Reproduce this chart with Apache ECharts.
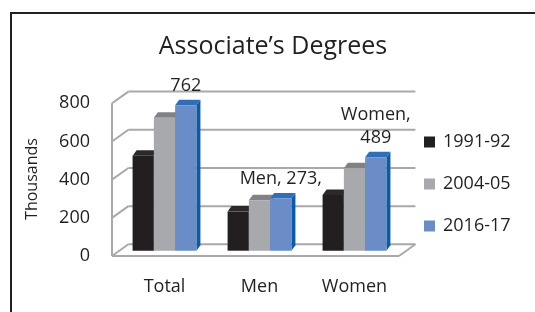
<!DOCTYPE html>
<html><head><meta charset="utf-8">
<script src="https://cdn.jsdelivr.net/npm/echarts@6/dist/echarts.min.js"></script>
<style>html,body{margin:0;padding:0;background:#fff}#c{width:535px;height:312px}</style>
</head><body><div id="c"></div>
<script>
// ---- data ----
const categories = ['Total', 'Men', 'Women'];
const seriesNames = ['1991-92', '2004-05', '2016-17'];
const values1991 = [497, 205, 292];
const values2004 = [696, 264, 432];
const values2016 = [762, 273, 489];
const labels2016 = ['762', 'Men, 273,', 'Women,\n489'];
const yTicks = [0, 200, 400, 600, 800];
const yTickLabels = ['0', '200', '400', '600', '800'];

// ---- style ----
const FONT = '"Open Sans", sans-serif';
const TXT = '#231f20';
const FRAME = '#a7a9ac';
const palette = [
  { front: '#231f20', top: '#2d292a', side: '#1a1718' },
  { front: '#a7a9ac', top: '#808285', side: '#8a8c8f' },
  { front: '#6a8cc7', top: '#2f6fb8', side: '#0b5bab' }
];
const BAR_FRAC = 0.224, DX = 4, DY = 5.5;
const FRONT_L = -5, FRONT_R = -3, FRONT_DY = 5.3, DEPTH_X = 16.4, DEPTH_Y = 11.7;

function seg(x1, y1, x2, y2) {
  return { type: 'line', shape: { x1, y1, x2, y2 }, style: { stroke: FRAME, lineWidth: 2 } };
}

function renderFrame(params, api) {
  const cs = params.coordSys;
  const v = api.value(0);
  const y = api.coord([0, v])[1];
  const fL = cs.x + FRONT_L, fR = cs.x + cs.width + FRONT_R;
  const yF = y + FRONT_DY, yB = yF - DEPTH_Y;
  const ch = [
    seg(fL + DEPTH_X, yB, fR + DEPTH_X, yB),
    seg(fL, yF, fL + DEPTH_X, yB),
    { type: 'text', style: { text: yTickLabels[params.dataIndex], x: fL - 22, y: yF,
      align: 'right', verticalAlign: 'middle', fill: TXT, font: '18px ' + FONT } }
  ];
  if (params.dataIndex === 0) {
    const yTop = api.coord([0, yTicks[yTicks.length - 1]])[1] + FRONT_DY;
    ch.push(seg(fL, yF, fR, yF));
    ch.push(seg(fR, yF, fR + DEPTH_X, yB));
    ch.push(seg(fL, yTop, fL, yF));
  }
  return { type: 'group', children: ch };
}

function barRenderer(s) {
  const c = palette[s];
  return function (params, api) {
    const cat = api.value(0), v = api.value(1);
    const top = api.coord([cat, v]);
    const base = api.coord([cat, 0]);
    const bandW = api.size([1, 0])[0];
    const w = bandW * BAR_FRAC;
    const xl = top[0] - 1.5 * w + s * w, xr = xl + w;
    const yt = top[1], yb = base[1];
    const ch = [
      { type: 'polygon', shape: { points: [[xr, yb], [xr, yt], [xr + DX, yt - DY], [xr + DX, yb - DY]] }, style: { fill: c.side } },
      { type: 'polygon', shape: { points: [[xl, yt], [xr, yt], [xr + DX, yt - DY], [xl + DX, yt - DY]] }, style: { fill: c.top } },
      { type: 'rect', shape: { x: xl, y: yt, width: w, height: yb - yt }, style: { fill: c.front } }
    ];
    if (s === 2) {
      ch.push({ type: 'text', style: { text: labels2016[params.dataIndex], x: (xl + xr) / 2, y: yt - 8,
        align: 'center', verticalAlign: 'bottom', lineHeight: 23, fill: TXT, font: '18px ' + FONT } });
    }
    return { type: 'group', children: ch };
  };
}

const seriesValues = [values1991, values2004, values2016];
const barSeries = seriesValues.map((vals, s) => ({
  type: 'custom', name: seriesNames[s], z: 3,
  itemStyle: { color: palette[s].front },
  renderItem: barRenderer(s),
  encode: { x: 0, y: 1 },
  data: vals.map((v, i) => [i, v])
}));

const chart = echarts.init(document.getElementById('c'), null, { renderer: 'canvas' });
chart.setOption({
  backgroundColor: '#fff',
  animation: false,
  title: {
    text: 'Associate\u2019s Degrees', left: 273, top: 33, textAlign: 'center', padding: 0,
    textStyle: { fontFamily: FONT, fontSize: 25, fontWeight: 'normal', color: TXT, lineHeight: 27 }
  },
  legend: {
    orient: 'vertical', left: 424, top: 133, itemWidth: 11, itemHeight: 11, itemGap: 24,
    icon: 'rect', padding: 0,
    textStyle: { fontFamily: FONT, fontSize: 18, color: TXT, lineHeight: 18, padding: [0, 0, 0, 3] },
    data: seriesNames
  },
  grid: { left: 117, right: 133, top: 98, bottom: 61.3, outerBoundsMode: 'none' },
  xAxis: {
    type: 'category', data: categories,
    axisLine: { show: false }, axisTick: { show: false }, splitLine: { show: false },
    axisLabel: { margin: 27, fontFamily: FONT, fontSize: 18, color: TXT }
  },
  yAxis: {
    type: 'value', min: 0, max: 800, interval: 200,
    axisLine: { show: false }, axisTick: { show: false }, splitLine: { show: false },
    axisLabel: { show: false }
  },
  graphic: [
    { type: 'rect', shape: { x: 11, y: 13, width: 560, height: 340 }, style: { fill: 'none', stroke: TXT, lineWidth: 2 }, silent: true },
    { type: 'text', x: 32, y: 179, rotation: Math.PI / 2,
      style: { text: 'Thousands', align: 'center', verticalAlign: 'middle', fill: TXT, font: '16px ' + FONT } }
  ],
  series: [
    { type: 'custom', name: 'frame', z: 1, silent: true, renderItem: renderFrame,
      encode: { y: 0 }, data: yTicks.map(v => [v]) }
  ].concat(barSeries)
});
</script></body></html>
